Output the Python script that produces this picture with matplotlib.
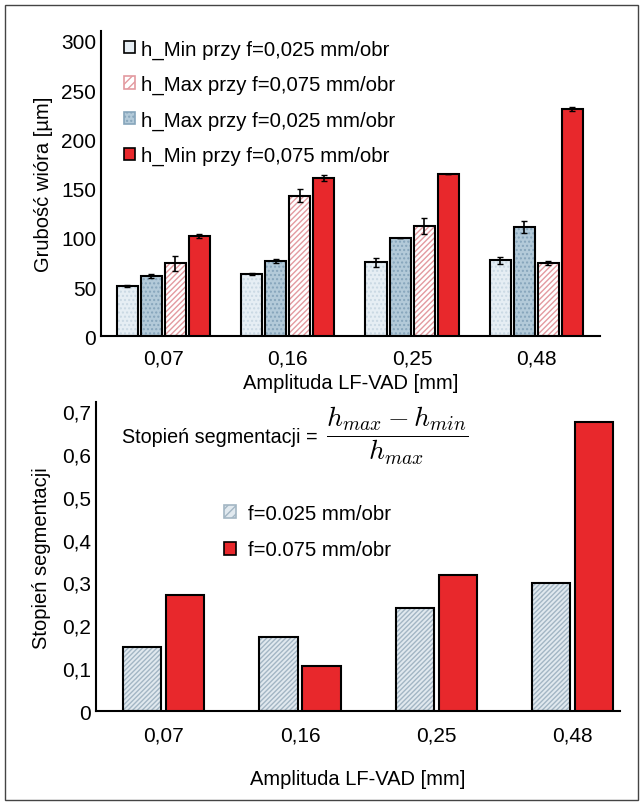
import matplotlib.pyplot as plt
import numpy as np
from matplotlib.patches import Patch, Rectangle

plt.rcParams['font.family'] = ['Liberation Sans', 'DejaVu Sans']
plt.rcParams['mathtext.fontset'] = 'cm'
plt.rcParams['hatch.linewidth'] = 1.0

# Top chart data
amplitudes = ['0,07', '0,16', '0,25', '0,48']
hmin_025 = [51, 63, 75, 77]
hmax_025 = [61, 76, 100, 111]
hmax_075 = [74, 143, 112, 74]
hmin_075 = [102, 161, 165, 231]
err_hmin_025 = [1, 1, 5, 4]
err_hmax_025 = [2, 2, 0, 6]
err_hmax_075 = [8, 7, 8, 2]
err_hmin_075 = [2, 3, 0, 2]

# Bottom chart data
seg_025 = [0.149, 0.173, 0.240, 0.299]
seg_075 = [0.270, 0.105, 0.317, 0.674]

red = '#e8282c'

fig = plt.figure(figsize=(6.43, 8.03), dpi=100)

# frame around whole figure
fig.patches.append(Rectangle((0.007, 0.002), 0.986, 0.99, transform=fig.transFigure,
                             fill=False, edgecolor='#444444', linewidth=1.0))


def hatched_bar(ax, x, h, w, face, hcolor, hatch):
    ax.bar(x, h, w, color=face, edgecolor=hcolor, hatch=hatch, linewidth=0, zorder=2)
    ax.bar(x, h, w, fill=False, edgecolor='black', linewidth=1.5, zorder=3)


# ---------------- top chart ----------------
ax1 = fig.add_axes([0.157, 0.580, 0.776, 0.380])
x = np.arange(len(amplitudes))
step = 0.193
w = 0.169
series = [
    (hmin_025, err_hmin_025, '#e6eef4', '#c9d8e3', '....'),
    (hmax_025, err_hmax_025, '#b3cad9', '#86a5bb', '....'),
    (hmax_075, err_hmax_075, 'white', '#e39aa0', '//////'),
    (hmin_075, err_hmin_075, red, red, None),
]
for i, (vals, errs, face, hc, hatch) in enumerate(series):
    xi = x + (i - 1.5) * step
    if hatch:
        hatched_bar(ax1, xi, vals, w, face, hc, hatch)
    else:
        ax1.bar(xi, vals, w, color=face, edgecolor='black', linewidth=1.5, zorder=3)
    ax1.errorbar(xi, vals, yerr=errs, fmt='none', ecolor='black', elinewidth=1.2,
                 capsize=2.5, zorder=4)

ax1.set_xlim(-0.5, 3.51)
ax1.set_ylim(0, 310)
ax1.set_yticks(range(0, 301, 50))
ax1.set_xticks(x)
ax1.set_xticklabels(amplitudes)
ax1.tick_params(length=0, labelsize=15)
ax1.tick_params(axis='x', pad=9)
ax1.spines[['top', 'right']].set_visible(False)
ax1.spines[['left', 'bottom']].set_linewidth(1.5)
ax1.set_xlabel('Amplituda LF-VAD [mm]', fontsize=14.5, labelpad=4)
ax1.set_ylabel('Grubość wióra [µm]', fontsize=14.5, labelpad=6)

leg_handles = [
    Patch(facecolor='#e6eef4', edgecolor='black', linewidth=1.2),
    Patch(facecolor='white', edgecolor='#e39aa0', hatch='////', linewidth=1.2),
    Patch(facecolor='#b3cad9', edgecolor='#86a5bb', hatch='....', linewidth=1.2),
    Patch(facecolor=red, edgecolor='black', linewidth=1.2),
]
leg_labels = ['h_Min przy f=0,025 mm/obr', 'h_Max przy f=0,075 mm/obr',
              'h_Max przy f=0,025 mm/obr', 'h_Min przy f=0,075 mm/obr']
ax1.legend(leg_handles, leg_labels, loc='upper left', bbox_to_anchor=(0.03, 1.0),
           frameon=False, fontsize=14.7, handlelength=0.55, handleheight=0.55,
           handletextpad=0.3, labelspacing=0.8, borderaxespad=0.0)

# ---------------- bottom chart ----------------
ax2 = fig.add_axes([0.149, 0.113, 0.815, 0.385])
bw = 0.28
off = 0.158
hatched_bar(ax2, x - off, seg_025, bw, '#e1e9ef', '#a3b6c4', '///////')
ax2.bar(x + off, seg_075, bw, color=red, edgecolor='black', linewidth=1.5, zorder=3)

ax2.set_xlim(-0.5, 3.35)
ax2.set_ylim(0, 0.72)
yt = np.arange(0, 0.71, 0.1)
ax2.set_yticks(yt)
ax2.set_yticklabels(['0'] + [f'0,{i}' for i in range(1, 8)])
ax2.set_xticks(x)
ax2.set_xticklabels(amplitudes)
ax2.tick_params(length=0, labelsize=15)
ax2.tick_params(axis='x', pad=10)
ax2.spines[['top', 'right']].set_visible(False)
ax2.spines[['left', 'bottom']].set_linewidth(1.5)
ax2.set_xlabel('Amplituda LF-VAD [mm]', fontsize=14.5, labelpad=18)
ax2.set_ylabel('Stopień segmentacji', fontsize=14.5, labelpad=8)

ax2.text(0.05, 0.89, 'Stopień segmentacji =', transform=ax2.transAxes,
         fontsize=14.2, va='center', ha='left')
ax2.text(0.44, 0.893, r'$\dfrac{h_{max} - h_{min}}{h_{max}}$', transform=ax2.transAxes,
         fontsize=20, va='center', ha='left')

leg2_handles = [
    Patch(facecolor='#e1e9ef', edgecolor='#a3b6c4', hatch='////', linewidth=1.2),
    Patch(facecolor=red, edgecolor='black', linewidth=1.2),
]
ax2.legend(leg2_handles, ['f=0.025 mm/obr', 'f=0.075 mm/obr'], loc='upper left',
           bbox_to_anchor=(0.21, 0.73), frameon=False, fontsize=14.7,
           handlelength=0.6, handleheight=0.6, handletextpad=0.55, labelspacing=0.85)

fig.savefig('out.png', dpi=100)
